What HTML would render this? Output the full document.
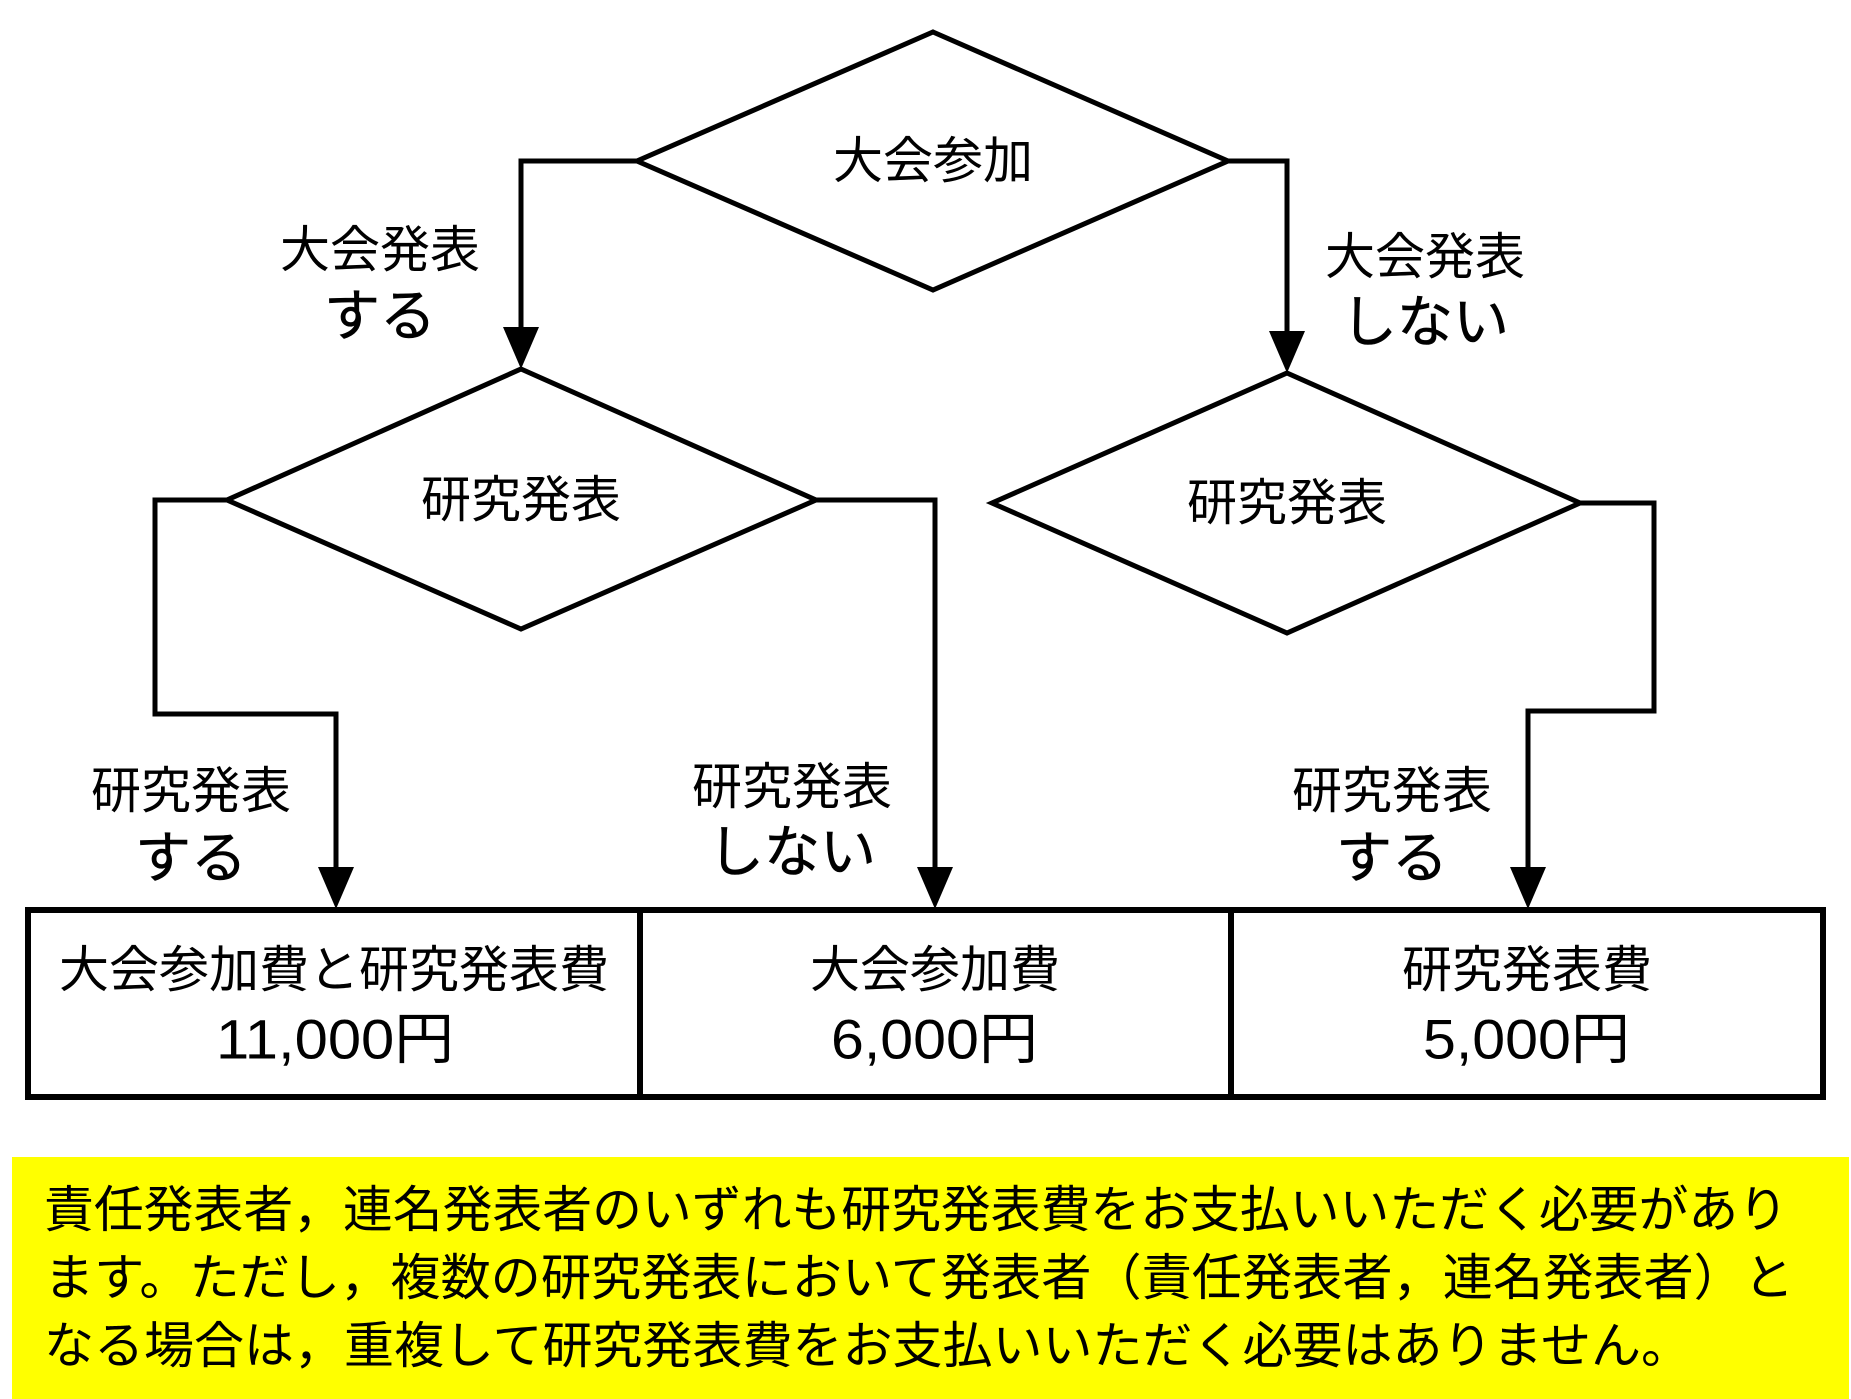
<!DOCTYPE html>
<html><head><meta charset="utf-8"><style>
html,body{margin:0;padding:0;background:#fff;}
svg{display:block;}
text{font-family:"Liberation Sans","Noto Sans CJK JP",sans-serif;fill:#000;}
</style></head><body>
<svg width="1851" height="1399" viewBox="0 0 1851 1399" xmlns="http://www.w3.org/2000/svg">
<g fill="none" stroke="#000" stroke-width="5" stroke-linejoin="miter">
<polygon points="933,32 1228,161 933,290 637,161" fill="#fff"/>
<polygon points="521,369 816,500 521,629 227,500" fill="#fff"/>
<polygon points="1287,373 1580,503 1287,633 992,503" fill="#fff"/>
<polyline points="637,161 521,161 521,330"/>
<polyline points="1228,161 1287,161 1287,334"/>
<polyline points="227,500 155,500 155,714 336,714 336,870"/>
<polyline points="816,500 935,500 935,870"/>
<polyline points="1580,503 1654,503 1654,711 1528,711 1528,870"/>
</g>
<g fill="none" stroke="#000" stroke-width="6">
<rect x="28" y="910" width="1795" height="187"/>
<line x1="640" y1="910" x2="640" y2="1097"/>
<line x1="1231" y1="910" x2="1231" y2="1097"/>
</g>
<g fill="#000">
<polygon points="503,327 539,327 521,369"/>
<polygon points="1269,331 1305,331 1287,373"/>
<polygon points="318,867 354,867 336,909"/>
<polygon points="917,867 953,867 935,909"/>
<polygon points="1510,867 1546,867 1528,909"/>
</g>
<g font-size="50" text-anchor="middle" dominant-baseline="central">
<text x="933" y="161">大会参加</text>
<text x="521" y="500">研究発表</text>
<text x="1287" y="503">研究発表</text>
<text x="380" y="250">大会発表</text>
<text x="1425" y="257">大会発表</text>
<text x="191" y="791">研究発表</text>
<text x="792" y="787">研究発表</text>
<text x="1392" y="791">研究発表</text>
</g>
<g font-size="56" text-anchor="middle" dominant-baseline="central" stroke="#000" stroke-width="0.6">
<text x="380" y="316">する</text>
<text x="1425" y="322">しない</text>
<text x="191" y="858">する</text>
<text x="792" y="852">しない</text>
<text x="1392" y="858">する</text>
</g>
<g font-size="50" text-anchor="middle" dominant-baseline="central">
<text x="334" y="970">大会参加費と研究発表費</text>
<text x="935" y="970">大会参加費</text>
<text x="1527" y="970">研究発表費</text>
</g>
<g font-size="56" dominant-baseline="central">
<text x="216" y="1039" textLength="238" lengthAdjust="spacingAndGlyphs">11,000円</text>
<text x="831" y="1039" textLength="207" lengthAdjust="spacingAndGlyphs">6,000円</text>
<text x="1423" y="1039" textLength="207" lengthAdjust="spacingAndGlyphs">5,000円</text>
</g>
<rect x="12" y="1157" width="1837" height="242" fill="#ffff00"/>
<g font-size="50" dominant-baseline="central">
<text x="44" y="1210" textLength="1744" lengthAdjust="spacingAndGlyphs">責任発表者，連名発表者のいずれも研究発表費をお支払いいただく必要があり</text>
<text x="44" y="1278" textLength="1750" lengthAdjust="spacingAndGlyphs">ます。ただし，複数の研究発表において発表者（責任発表者，連名発表者）と</text>
<text x="44" y="1346">なる場合は，重複して研究発表費をお支払いいただく必要はありません。</text>
</g>
</svg>
</body></html>
